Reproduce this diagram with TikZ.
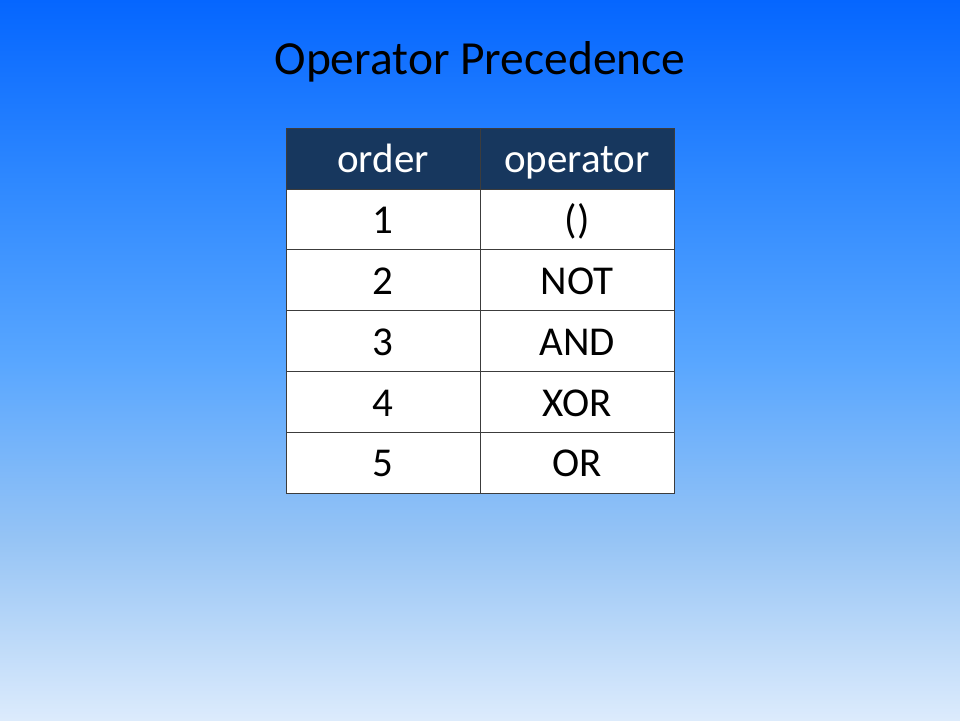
\documentclass[tikz,border=0pt]{standalone}
\usepackage{fontspec}
\setmainfont{Carlito}
\usepackage{tikz}
\usetikzlibrary{positioning}

\definecolor{skytop}{RGB}{5,102,255}
\definecolor{skyq}{RGB}{46,136,255}
\definecolor{skymid}{RGB}{88,166,255}
\definecolor{skylow}{RGB}{150,196,245}
\definecolor{skybot}{RGB}{220,235,252}
\definecolor{headblue}{RGB}{23,55,94}
\definecolor{rulegray}{RGB}{60,60,60}

\pgfdeclareverticalshading{sky}{100bp}{color(0bp)=(skybot); color(25bp)=(skybot); color(37.5bp)=(skylow); color(50bp)=(skymid); color(62.5bp)=(skyq); color(75bp)=(skytop); color(100bp)=(skytop)}

\begin{document}
\begin{tikzpicture}
	[
		x=1pt, y=1pt,
		H/.style = {rectangle, align=center, draw=rulegray, fill=headblue, text=white,
			minimum width=194pt, minimum height=60.8pt, inner sep=0pt,
			font=\fontsize{41}{48}\selectfont, text height=28.7pt, text depth=0pt},
		C/.style = {H, fill=white, text=black},
		T/.style = {rectangle, draw=none, fill=none, font=\fontsize{47.5}{56}\selectfont},
	]

	% background
	\shade[shading=sky] (0,0) rectangle (960,720);
	\useasboundingbox (0,0) rectangle (960,720);

	% title
	\node[T, anchor=base] (title) at (480,645) {Operator Precedence};

	% header row
	\node[H] (ord) at (383,561.5) {order};
	\node[H] (opr) at (577,561.5) {operator};

	% body rows
	\foreach \n/\op [count=\i] in {1/{()},2/NOT,3/AND,4/XOR,5/OR}
	{
		\node[C] (r\i) at (383,561.5-60.8*\i) {\n};
		\node[C] (o\i) at (577,561.5-60.8*\i) {\op};
	}

\end{tikzpicture}
\end{document}
